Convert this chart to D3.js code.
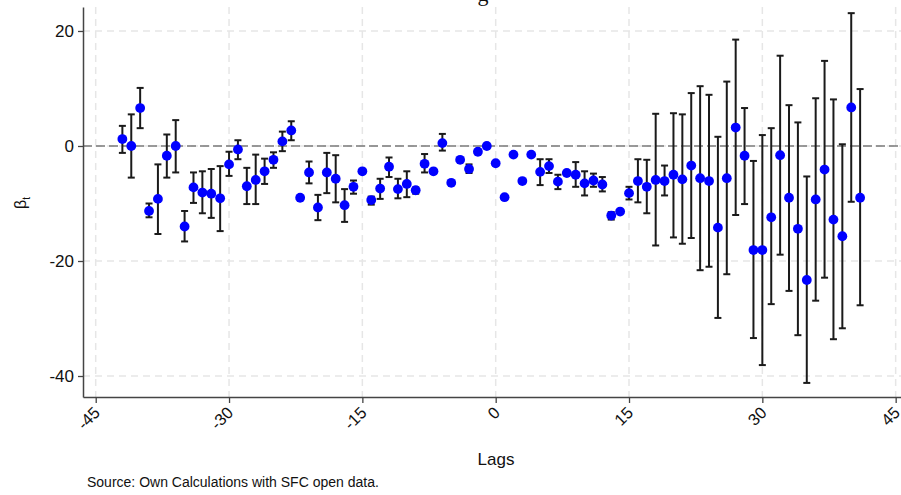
<!DOCTYPE html>
<html>
<head>
<meta charset="utf-8">
<script src="https://cdn.jsdelivr.net/npm/d3@7"></script>
<style>
  html, body { margin: 0; padding: 0; background: #fff; }
  svg { display: block; }
</style>
</head>
<body>
<svg id="chart" width="901" height="495"></svg>
<script>
// Lag index of each estimate
const lags = [
  -42,-41,-40,-39,-38,-37,-36,-35,-34,-33,-32,-31,-30,-29,-28,-27,-26,-25,-24,-23,
  -22,-21,-20,-19,-18,-17,-16,-15,-14,-13,-12,-11,-10,-9,-8,-7,-6,-5,-4,-3,
  -2,-1,0,1,2,3,4,5,6,7,8,9,10,11,12,13,14,15,16,17,
  18,19,20,21,22,23,24,25,26,27,28,29,30,31,32,33,34,35,36,37,38,39,40,41
];
// Point estimates beta_t
const beta = [
  1.2,0.0,6.6,-11.3,-9.2,-1.7,0.0,-14.0,-7.2,-8.1,-8.3,-9.1,-3.2,-0.6,-7.0,-5.9,-4.4,-2.4,0.8,2.7,
  -9.0,-4.6,-10.7,-4.6,-5.7,-10.3,-7.1,-4.4,-9.4,-7.4,-3.6,-7.5,-6.6,-7.7,-3.1,-4.4,0.5,-6.4,-2.4,-4.0,
  -1.0,0.0,-3.0,-8.9,-1.5,-6.1,-1.5,-4.5,-3.5,-6.2,-4.7,-5.0,-6.5,-6.0,-6.7,-12.1,-11.4,-8.2,-6.1,-7.1,
  -5.9,-6.1,-5.0,-5.8,-3.4,-5.6,-6.1,-14.2,-5.6,3.2,-1.7,-18.1,-18.1,-12.4,-1.6,-9.0,-14.4,-23.3,-9.3,-4.1,-12.8,-15.7,6.7,-9.0
];
// Lower and upper confidence bounds (null where the interval is hidden by the marker)
const ciLow = [
  -1.2,-5.5,3.1,-12.4,-15.3,-5.5,-4.6,-16.6,-9.9,-11.7,-12.5,-14.8,-5.2,-2.3,-10.1,-10.1,-6.6,-3.8,-0.9,1.0,
  null,-6.5,-12.9,-8.2,-9.8,-13.2,-8.3,null,-10.2,-9.2,-5.4,-9.1,-8.9,-8.3,-4.6,null,-0.8,null,null,-4.7,
  null,null,null,null,null,null,null,-6.8,-4.7,-7.5,null,-7.1,-8.6,-7.1,-7.9,-12.8,null,-9.3,-9.8,-11.7,
  -17.3,-8.6,-15.9,-17.0,-16.0,-21.6,-21.0,-29.9,-22.3,-12.0,-10.1,-33.4,-38.1,-27.5,-18.9,-25.2,-32.9,-41.2,-26.9,-22.9,-33.6,-31.7,-9.7,-27.7
];
const ciHigh = [
  3.5,5.5,10.1,-10.0,-3.2,2.0,4.5,-11.3,-4.6,-4.4,-4.0,-3.5,-1.0,1.0,-3.8,-1.5,-2.2,-1.1,2.5,4.3,
  null,-2.7,-8.5,-1.2,-1.6,-7.5,-6.0,null,-8.8,-5.7,-2.0,-5.7,-4.4,-7.2,-1.4,null,2.1,null,null,-3.2,
  null,null,null,null,null,null,null,-2.3,-2.3,-5.0,null,-2.8,-4.4,-4.8,-5.4,-11.5,null,-7.1,-2.3,-2.4,
  5.6,-3.4,5.7,5.5,9.2,10.4,8.9,1.6,11.2,18.5,6.6,-2.6,1.9,3.1,15.7,7.1,4.1,-5.3,8.3,14.8,8.1,0.3,23.1,9.9
];
// Axis ticks
const xTicks = [-45, -30, -15, 0, 15, 30, 45];
const yTicks = [-40, -20, 0, 20];

const svg = d3.select("#chart");
const plot = { left: 83, right: 901, top: 7, bottom: 397 };

const x = d3.scaleLinear().domain([-46.43, 45.6]).range([plot.left, plot.right]);
const y = d3.scaleLinear().domain([-43.65, 24.17]).range([plot.bottom, plot.top]);
const plain = d => String(d);

// Title, mostly above the top edge of the figure
svg.append("text")
  .attr("x", 483).attr("y", 1)
  .attr("text-anchor", "middle")
  .attr("font-family", "Liberation Serif, DejaVu Serif, serif")
  .attr("font-size", 22)
  .attr("fill", "#111")
  .text("g");

// Dashed grid
const grid = svg.append("g").attr("stroke", "#e6e6e6").attr("stroke-width", 1.5)
  .attr("stroke-dasharray", "7,5");
grid.selectAll("line.h").data(yTicks).join("line")
  .attr("x1", plot.left).attr("x2", plot.right)
  .attr("y1", d => y(d)).attr("y2", d => y(d));
grid.selectAll("line.v").data(xTicks).join("line")
  .attr("y1", plot.top).attr("y2", plot.bottom)
  .attr("x1", d => x(d)).attr("x2", d => x(d));

// Reference line at zero
svg.append("line")
  .attr("x1", plot.left).attr("x2", plot.right)
  .attr("y1", y(0)).attr("y2", y(0))
  .attr("stroke", "#7a7a7a").attr("stroke-width", 1.6)
  .attr("stroke-dasharray", "9,4");

// Axes
const xAxis = svg.append("g")
  .attr("transform", `translate(0,${plot.bottom})`)
  .call(d3.axisBottom(x).tickValues(xTicks).tickFormat(plain)
    .tickSize(6).tickPadding(6).tickSizeOuter(0));
xAxis.select(".domain").attr("stroke", "#444").attr("stroke-width", 1.5);
xAxis.selectAll(".tick line").attr("stroke", "#444").attr("stroke-width", 1.3);
xAxis.selectAll(".tick text")
  .attr("font-family", "Liberation Sans, Arial, sans-serif")
  .attr("font-size", 16.5).attr("fill", "#111")
  .attr("text-anchor", "end")
  .attr("dy", "0.2em")
  .attr("transform", "translate(-6,6) rotate(-45)");

const yAxis = svg.append("g")
  .attr("transform", `translate(${plot.left},0)`)
  .call(d3.axisLeft(y).tickValues(yTicks).tickFormat(plain)
    .tickSize(5).tickPadding(4).tickSizeOuter(0));
yAxis.select(".domain").attr("stroke", "#444").attr("stroke-width", 1.5);
yAxis.selectAll(".tick line").attr("stroke", "#444").attr("stroke-width", 1.3);
yAxis.selectAll(".tick text")
  .attr("font-family", "Liberation Sans, Arial, sans-serif")
  .attr("font-size", 17).attr("fill", "#111");

// Axis titles and note
svg.append("text")
  .attr("x", 496).attr("y", 465)
  .attr("text-anchor", "middle")
  .attr("font-family", "Liberation Sans, Arial, sans-serif")
  .attr("font-size", 17).attr("fill", "#111")
  .text("Lags");

const yl = svg.append("text")
  .attr("transform", "translate(26,203) rotate(-90)")
  .attr("text-anchor", "middle")
  .attr("font-family", "Liberation Sans, Arial, sans-serif")
  .attr("font-size", 16).attr("fill", "#111");
yl.append("tspan").text("β");
yl.append("tspan").attr("font-size", 10).attr("dy", 4).text("t");

svg.append("text")
  .attr("x", 87).attr("y", 487)
  .attr("font-family", "Liberation Sans, Arial, sans-serif")
  .attr("font-size", 14).attr("fill", "#111")
  .text("Source: Own Calculations with SFC open data.");

// Confidence intervals
const rows = lags.map((l, i) => ({ lag: l, b: beta[i], lo: ciLow[i], hi: ciHigh[i] }));
const withCI = rows.filter(r => r.lo !== null && r.hi !== null);
const ci = svg.append("g").attr("stroke", "#1a1a1a").attr("stroke-width", 2);
ci.selectAll("line.stem").data(withCI).join("line")
  .attr("x1", d => x(d.lag)).attr("x2", d => x(d.lag))
  .attr("y1", d => y(d.lo)).attr("y2", d => y(d.hi));
ci.selectAll("line.capLo").data(withCI).join("line")
  .attr("x1", d => x(d.lag) - 3.5).attr("x2", d => x(d.lag) + 3.5)
  .attr("y1", d => y(d.lo)).attr("y2", d => y(d.lo));
ci.selectAll("line.capHi").data(withCI).join("line")
  .attr("x1", d => x(d.lag) - 3.5).attr("x2", d => x(d.lag) + 3.5)
  .attr("y1", d => y(d.hi)).attr("y2", d => y(d.hi));

// Point estimates
svg.append("g").selectAll("circle").data(rows).join("circle")
  .attr("cx", d => x(d.lag)).attr("cy", d => y(d.b))
  .attr("r", 4.9)
  .attr("fill", "#0000ff");
</script>
</body>
</html>
